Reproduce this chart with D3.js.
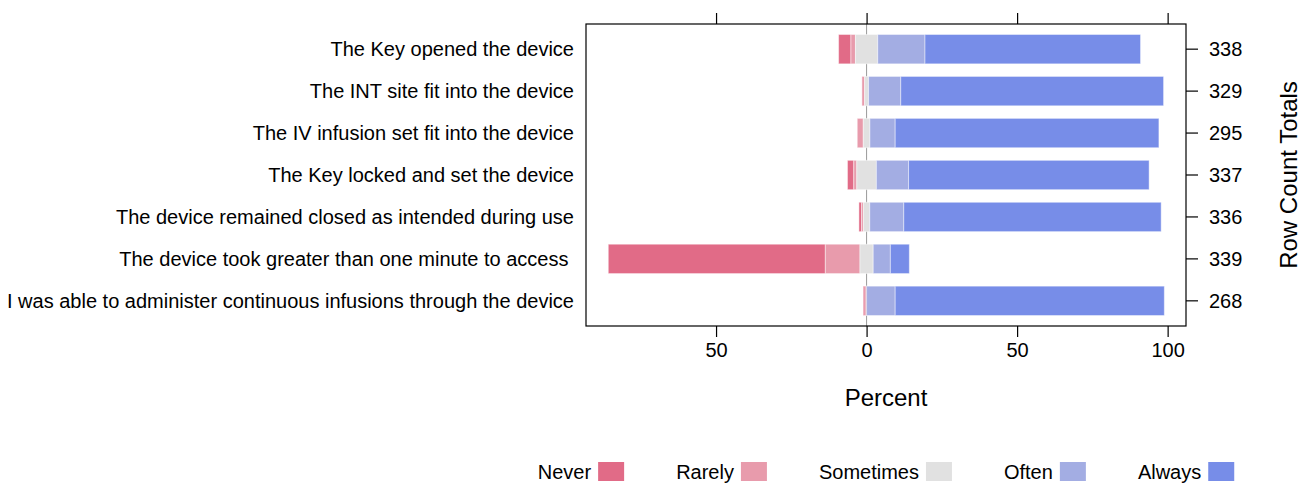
<!DOCTYPE html>
<html>
<head>
<meta charset="utf-8">
<script src="https://cdn.jsdelivr.net/npm/d3@7"></script>
<style>
  html, body { margin: 0; padding: 0; background: #fff; }
  svg { display: block; }
  text { font-family: "Liberation Sans", Arial, Helvetica, sans-serif; fill: #000; }
</style>
</head>
<body>
<svg id="chart" width="1309" height="484"></svg>
<script>
// ---- data (percent of row) ----
const categories = [
  "The Key opened the device",
  "The INT site fit into the device",
  "The IV infusion set fit into the device",
  "The Key locked and set the device",
  "The device remained closed as intended during use",
  "The device took greater than one minute to access ",
  "I was able to administer continuous infusions through the device"
];
const levels = ["Never", "Rarely", "Sometimes", "Often", "Always"];
const never     = [4.1, 0.0, 0.0, 2.1, 0.9, 72.1, 0.6];
const rarely    = [1.5, 0.9, 2.0, 1.0, 0.6, 11.5, 0.5];
const sometimes = [7.4, 1.3, 2.2, 6.5, 2.1, 4.4, 0.0];
const often     = [15.7, 10.7, 8.4, 10.7, 11.3, 5.7, 9.5];
const always    = [71.6, 87.3, 87.6, 79.9, 85.5, 6.3, 89.4];
const rowTotals = [338, 329, 295, 337, 336, 339, 268];
const xTicks = [-50, 0, 50, 100];
const colors = ["#E16B87", "#E89BAC", "#E1E1E1", "#A3ADE3", "#778DE8"];

const series = [never, rarely, sometimes, often, always];

// ---- layout ----
const svg = d3.select("#chart");
const panel = { left: 586, right: 1186, top: 24, bottom: 326 };

const x = d3.scaleLinear().domain([-93.2, 106.1]).range([panel.left, panel.right]);
const y = d3.scaleLinear().domain([0.4, 7.6]).range([panel.top, panel.bottom]);
const step = y(2) - y(1);
const barH = step * 0.7;

// build segments: neutral split half each side
const segs = [];
categories.forEach((c, i) => {
  const half = sometimes[i] / 2;
  let left = -(never[i] + rarely[i] + half);
  series.forEach((s, k) => {
    const v = s[i];
    segs.push({ row: i, level: k, x0: left, x1: left + v });
    left += v;
  });
});

// zero reference line
svg.append("line")
  .attr("x1", x(0)).attr("x2", x(0))
  .attr("y1", panel.top).attr("y2", panel.bottom)
  .attr("stroke", "#9a9a9a").attr("stroke-width", 1);

// bars
svg.append("g").selectAll("rect").data(segs.filter(d => d.x1 - d.x0 > 0)).join("rect")
  .attr("x", d => x(d.x0))
  .attr("width", d => x(d.x1) - x(d.x0))
  .attr("y", d => y(d.row + 1) - barH / 2)
  .attr("height", barH)
  .attr("fill", d => colors[d.level])
  .attr("stroke", "#ffffff").attr("stroke-opacity", 0.45).attr("stroke-width", 1);

// panel border
svg.append("rect")
  .attr("x", panel.left).attr("y", panel.top)
  .attr("width", panel.right - panel.left).attr("height", panel.bottom - panel.top)
  .attr("fill", "none").attr("stroke", "#000").attr("stroke-width", 1.2);

// bottom axis
const bottomAxis = d3.axisBottom(x).tickValues(xTicks).tickSize(11).tickPadding(6)
  .tickFormat(d => Math.abs(d));
const gb = svg.append("g").attr("transform", `translate(0,${panel.bottom})`).call(bottomAxis);
gb.select(".domain").remove();
gb.selectAll("text").style("font-size", "20px").style("font-family", "Liberation Sans, Arial, sans-serif");
gb.selectAll("line").attr("stroke", "#000").attr("stroke-width", 1.2);

// top axis (ticks only)
const topAxis = d3.axisTop(x).tickValues(xTicks).tickSize(11).tickFormat("");
const gt = svg.append("g").attr("transform", `translate(0,${panel.top})`).call(topAxis);
gt.select(".domain").remove();
gt.selectAll("line").attr("stroke", "#000").attr("stroke-width", 1.2);

// right axis with row totals
const yBand = d3.scaleOrdinal().domain(d3.range(7)).range(d3.range(7).map(i => y(i + 1)));
const rightG = svg.append("g");
rowTotals.forEach((t, i) => {
  rightG.append("line")
    .attr("x1", panel.right).attr("x2", panel.right + 12)
    .attr("y1", yBand(i)).attr("y2", yBand(i))
    .attr("stroke", "#000").attr("stroke-width", 1.2);
  rightG.append("text")
    .attr("x", panel.right + 23).attr("y", yBand(i)).attr("dy", "0.35em")
    .style("font-size", "20px").text(t);
});

// left category labels
svg.append("g").selectAll("text").data(categories).join("text")
  .attr("x", 574).attr("y", (d, i) => yBand(i)).attr("dy", "0.35em")
  .attr("text-anchor", "end").style("font-size", "20px").style("white-space", "pre")
  .text(d => d);

// axis titles
svg.append("text").attr("x", (panel.left + panel.right) / 2).attr("y", 406)
  .attr("text-anchor", "middle").style("font-size", "24px").text("Percent");
svg.append("text")
  .attr("transform", `translate(1297,${(panel.top + panel.bottom) / 2}) rotate(-90)`)
  .attr("text-anchor", "middle").style("font-size", "24px").text("Row Count Totals");

// legend
const lg = svg.append("g");
const boxW = 26, boxH = 19, gapTB = 7, gapEntry = 52;
const items = levels.map((l, k) => {
  const t = lg.append("text").attr("y", 479).style("font-size", "20px").text(l);
  return { t, w: t.node().getComputedTextLength(), k };
});
const total = d3.sum(items, d => d.w + gapTB + boxW) + gapEntry * (items.length - 1);
let cx = (panel.left + panel.right) / 2 - total / 2;
items.forEach(it => {
  it.t.attr("x", cx);
  cx += it.w + gapTB;
  lg.append("rect").attr("x", cx).attr("y", 462).attr("width", boxW).attr("height", boxH)
    .attr("fill", colors[it.k]);
  cx += boxW + gapEntry;
});
</script>
</body>
</html>
